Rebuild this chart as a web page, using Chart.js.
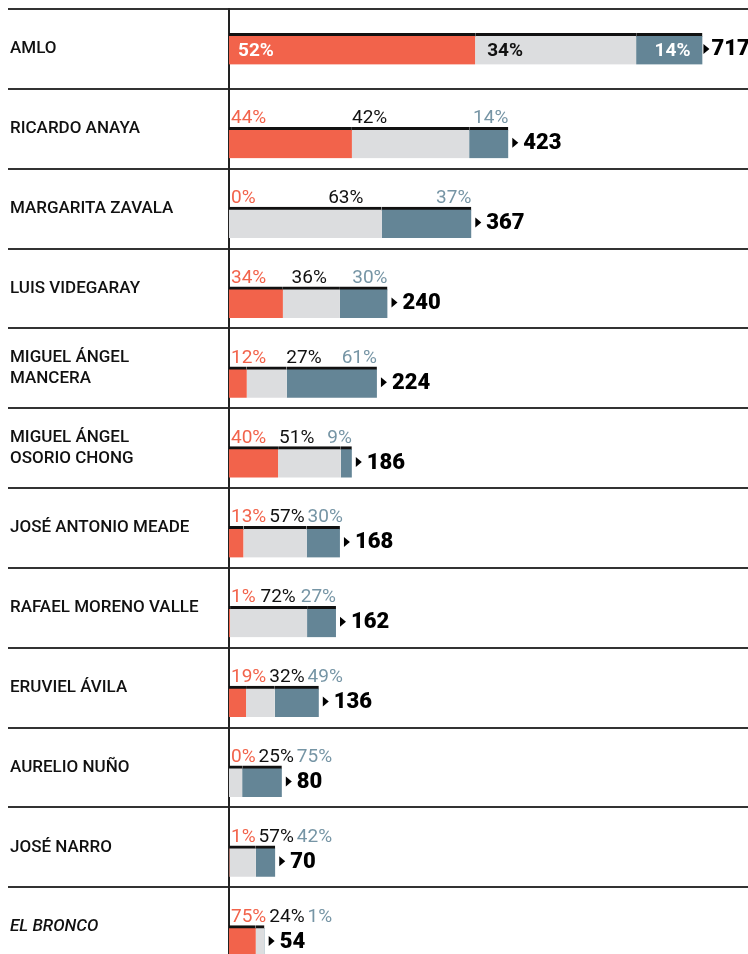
<!DOCTYPE html>
<html>
<head>
<meta charset="utf-8">
<script src="https://cdn.jsdelivr.net/npm/chart.js@4.4.1/dist/chart.umd.min.js"></script>
<style>
  html, body { margin: 0; padding: 0; background: #fff; overflow: hidden; }
  #wrap { width: 748px; height: 967px; }
</style>
</head>
<body>
<div id="wrap"><canvas id="chart"></canvas></div>
<script>
// datos
const names = [
  "AMLO", "RICARDO ANAYA", "MARGARITA ZAVALA", "LUIS VIDEGARAY",
  ["MIGUEL ÁNGEL", "MANCERA"], ["MIGUEL ÁNGEL", "OSORIO CHONG"],
  "JOSÉ ANTONIO MEADE", "RAFAEL MORENO VALLE", "ERUVIEL ÁVILA",
  "AURELIO NUÑO", "JOSÉ NARRO", "EL BRONCO"
];
const totals     = [717, 423, 367, 240, 224, 186, 168, 162, 136, 80, 70, 54];
const negativos  = [52, 44, 0, 34, 12, 40, 13, 1, 19, 0, 1, 75];
const neutros    = [34, 42, 63, 36, 27, 51, 57, 72, 32, 25, 57, 24];
const positivos  = [14, 14, 37, 30, 61, 9, 30, 27, 49, 75, 42, 1];

const RED = "#f2634b";
const GRAY = "#dcdddf";
const BLUE = "#648596";
const BLUE_TXT = "#7695a5";
const FONT = "Roboto, 'Noto Sans', sans-serif";
const PCT_FONT = "19px " + FONT;
const PCT_IN_FONT = "bold 19px " + FONT;
const TOTAL_FONT = "900 22px " + FONT;
const ROW_SHIFT = 14; // barras con etiquetas arriba bajan un poco

const pcts = [negativos, neutros, positivos];
const insideRows = [];

function segment(pct) {
  return totals.map((t, i) => t * pct[i] / 100);
}

const labelLayout = {
  id: "labelLayout",
  afterDatasetsUpdate(chart) {
    const ctx = chart.ctx;
    ctx.save();
    ctx.font = PCT_IN_FONT;
    totals.forEach((t, i) => {
      const bars = pcts.map((p, k) => chart.getDatasetMeta(k).data[i]);
      const inside = bars.every((bar, k) =>
        Math.abs(bar.x - bar.base) >= ctx.measureText(pcts[k][i] + "%").width + 20);
      insideRows[i] = inside;
      if (!inside) bars.forEach(bar => { bar.y += ROW_SHIFT; });
    });
    ctx.restore();
  },
  afterDatasetsDraw(chart) {
    const ctx = chart.ctx;
    const x = chart.scales.x;
    ctx.save();
    totals.forEach((t, i) => {
      const bars = pcts.map((p, k) => chart.getDatasetMeta(k).data[i]);
      const top = bars[0].y - bars[0].height / 2;
      const cy = bars[0].y;
      const start = x.getPixelForValue(0);
      const end = x.getPixelForValue(t);
      const texts = pcts.map(p => p[i] + "%");

      if (insideRows[i]) {
        ctx.font = PCT_IN_FONT;
        ctx.textBaseline = "middle";
        ctx.fillStyle = "#fff";
        ctx.textAlign = "left";
        ctx.fillText(texts[0], start + 9, cy + 2);
        ctx.fillStyle = "#111";
        ctx.fillText(texts[1], bars[1].base + 12, cy + 2);
        ctx.fillStyle = "#fff";
        ctx.textAlign = "right";
        ctx.fillText(texts[2], end - 12, cy + 2);
      } else {
        ctx.font = PCT_FONT;
        const gap = 3;
        const w = texts.map(s => ctx.measureText(s).width);
        const x0 = start + 2;
        const x2 = Math.max(end, x0 + w[0] + gap + w[1] + gap + w[2]) - w[2];
        const x1 = (x0 + w[0] + x2) / 2 - w[1] / 2;
        ctx.textBaseline = "alphabetic";
        ctx.textAlign = "left";
        ctx.fillStyle = RED;
        ctx.fillText(texts[0], x0, top - 4);
        ctx.fillStyle = "#111";
        ctx.fillText(texts[1], x1, top - 4);
        ctx.fillStyle = BLUE_TXT;
        ctx.fillText(texts[2], x2, top - 4);
      }

      // flecha y total
      ctx.font = TOTAL_FONT;
      const tw = ctx.measureText(String(t)).width;
      const numX = Math.min(end + 15, chart.width - tw - 1);
      const triX = Math.max(end + 1, Math.min(end + 4, numX - 9));
      ctx.fillStyle = "#000";
      ctx.beginPath();
      ctx.moveTo(triX, cy - 5);
      ctx.lineTo(triX, cy + 5);
      ctx.lineTo(triX + 6, cy);
      ctx.closePath();
      ctx.fill();
      ctx.textAlign = "left";
      ctx.textBaseline = "middle";
      ctx.fillText(String(t), Math.max(numX, triX + 8), cy + 1);
    });
    ctx.restore();
  }
};

const ctx = document.getElementById("chart").getContext("2d");
new Chart(ctx, {
  type: "bar",
  data: {
    labels: names,
    datasets: [
      { label: "Negativo", data: segment(negativos), backgroundColor: RED },
      { label: "Neutro", data: segment(neutros), backgroundColor: GRAY },
      { label: "Positivo", data: segment(positivos), backgroundColor: BLUE }
    ]
  },
  options: {
    indexAxis: "y",
    responsive: true,
    maintainAspectRatio: false,
    devicePixelRatio: 1,
    animation: false,
    events: [],
    layout: { padding: { left: 10, top: 9, right: 0, bottom: 0 } },
    datasets: {
      bar: {
        barThickness: 31,
        borderColor: "#111",
        borderWidth: { top: 3, right: 0, bottom: 0, left: 0 },
        borderSkipped: false
      }
    },
    plugins: { legend: { display: false }, tooltip: { enabled: false } },
    scales: {
      x: { display: false, stacked: true, min: 0, max: 786 },
      y: {
        stacked: true,
        afterFit: s => { s.width = 219; s.paddingTop = 0; s.paddingBottom = 0; },
        grid: { offset: true, color: "#333", lineWidth: 2, tickLength: 221, drawTicks: true },
        border: { display: true, color: "#222", width: 2 },
        ticks: {
          crossAlign: "far",
          padding: 0,
          color: "#111",
          font: c => ({
            family: FONT,
            size: 17,
            weight: 500,
            lineHeight: 1.2,
            style: names[c.index] === "EL BRONCO" ? "italic" : "normal"
          })
        }
      }
    }
  },
  plugins: [labelLayout]
});
</script>
</body>
</html>
